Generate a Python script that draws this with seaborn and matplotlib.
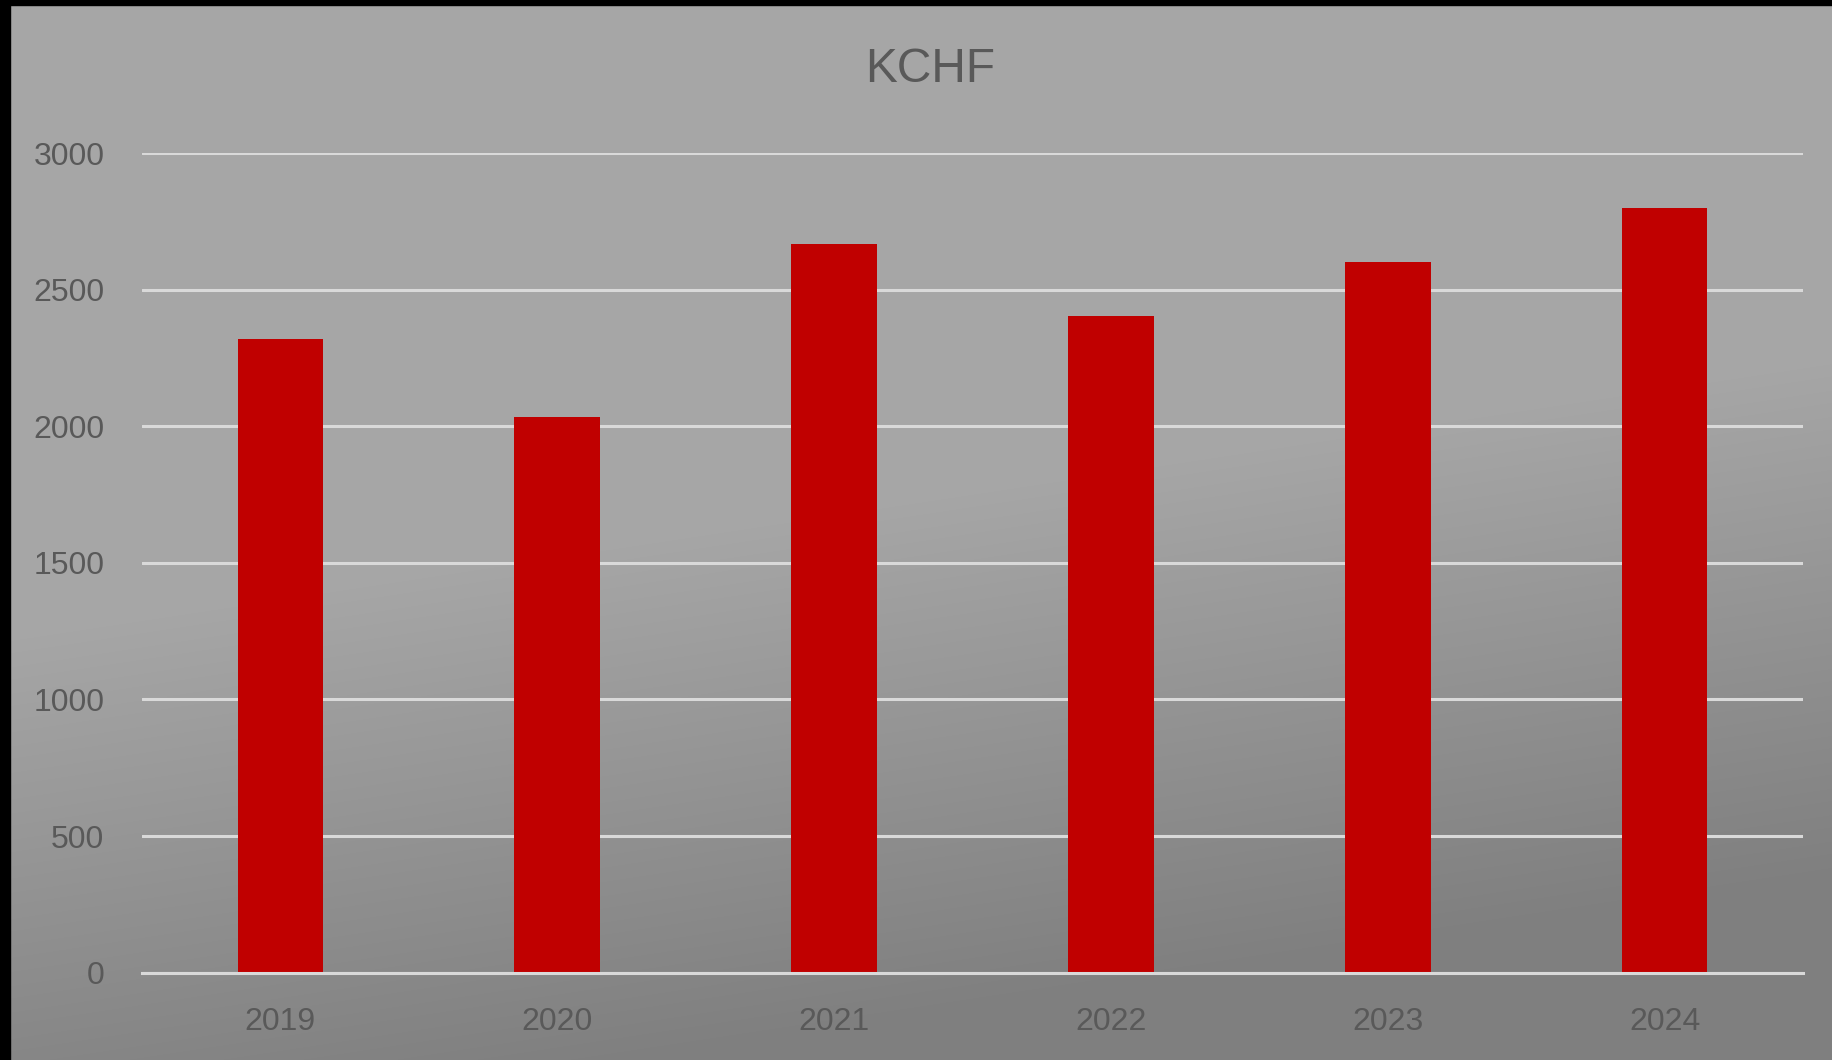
import numpy as np
import matplotlib
matplotlib.use('Agg')
import matplotlib.pyplot as plt
from matplotlib.colors import LinearSegmentedColormap
from matplotlib.patches import Rectangle
import seaborn as sns

# chart data
years = ['2019', '2020', '2021', '2022', '2023', '2024']
kchf = [2318, 2035, 2667, 2404, 2601, 2800]
yticks = [0, 500, 1000, 1500, 2000, 2500, 3000]
title = 'KCHF'

text_col = '#595959'
grid_col = '#d9d9d9'
bar_col = '#c00000'

sns.set_theme(style='white')
plt.rcParams['font.family'] = ['Liberation Sans', 'DejaVu Sans']

W, H = 1832, 1060
fig = plt.figure(figsize=(W / 100, H / 100), dpi=100)

# gradient background (light grey top-left -> darker grey bottom-right)
bg = fig.add_axes([0, 0, 1, 1], zorder=-10)
yy, xx = np.mgrid[0:H, 0:W]
s = yy + 0.152 * xx
t = np.clip((s - 640) / (1160 - 640), 0, 1)
cmap = LinearSegmentedColormap.from_list('bg', ['#a6a6a6', '#7f7f7f'])
bg.imshow(t, cmap=cmap, vmin=0, vmax=1, aspect='auto', interpolation='bilinear')
bg.set_axis_off()

ax = fig.add_axes([142 / W, 1 - 972.7 / H, (1803 - 142) / W, (972.7 - 153) / H])
ax.patch.set_alpha(0)

sns.barplot(x=years, y=kchf, color=bar_col, saturation=1, width=0.31,
            linewidth=0, edgecolor=bar_col, ax=ax)

ax.set_ylim(0, 3000)
ax.set_xlim(-0.5, len(years) - 0.5)
ax.set_yticks(yticks)
ax.set_yticklabels([str(v) for v in yticks])
ax.yaxis.grid(True, color=grid_col, linewidth=2.2)
ax.set_axisbelow(True)
for side in ['top', 'right', 'left']:
    ax.spines[side].set_visible(False)
ax.spines['bottom'].set_color(grid_col)
ax.spines['bottom'].set_linewidth(2.2)
ax.tick_params(axis='y', length=0, pad=27, labelsize=23, labelcolor=text_col)
ax.tick_params(axis='x', length=0, pad=25, labelsize=23, labelcolor=text_col)
for lbl in ax.get_yticklabels():
    lbl.set_va('center_baseline')
ax.set_xlabel('')
ax.set_ylabel('')

fig.text(930 / W, 1 - 69 / H, title, ha='center', va='center', fontsize=34.5, color=text_col)

# black frame edges on top and left
fig.add_artist(Rectangle((0, 1 - 5 / H), 1, 5 / H, transform=fig.transFigure, color='black', zorder=20))
fig.add_artist(Rectangle((0, 0), 10 / W, 1, transform=fig.transFigure, color='black', zorder=20))

fig.savefig('out.png', dpi=100)
